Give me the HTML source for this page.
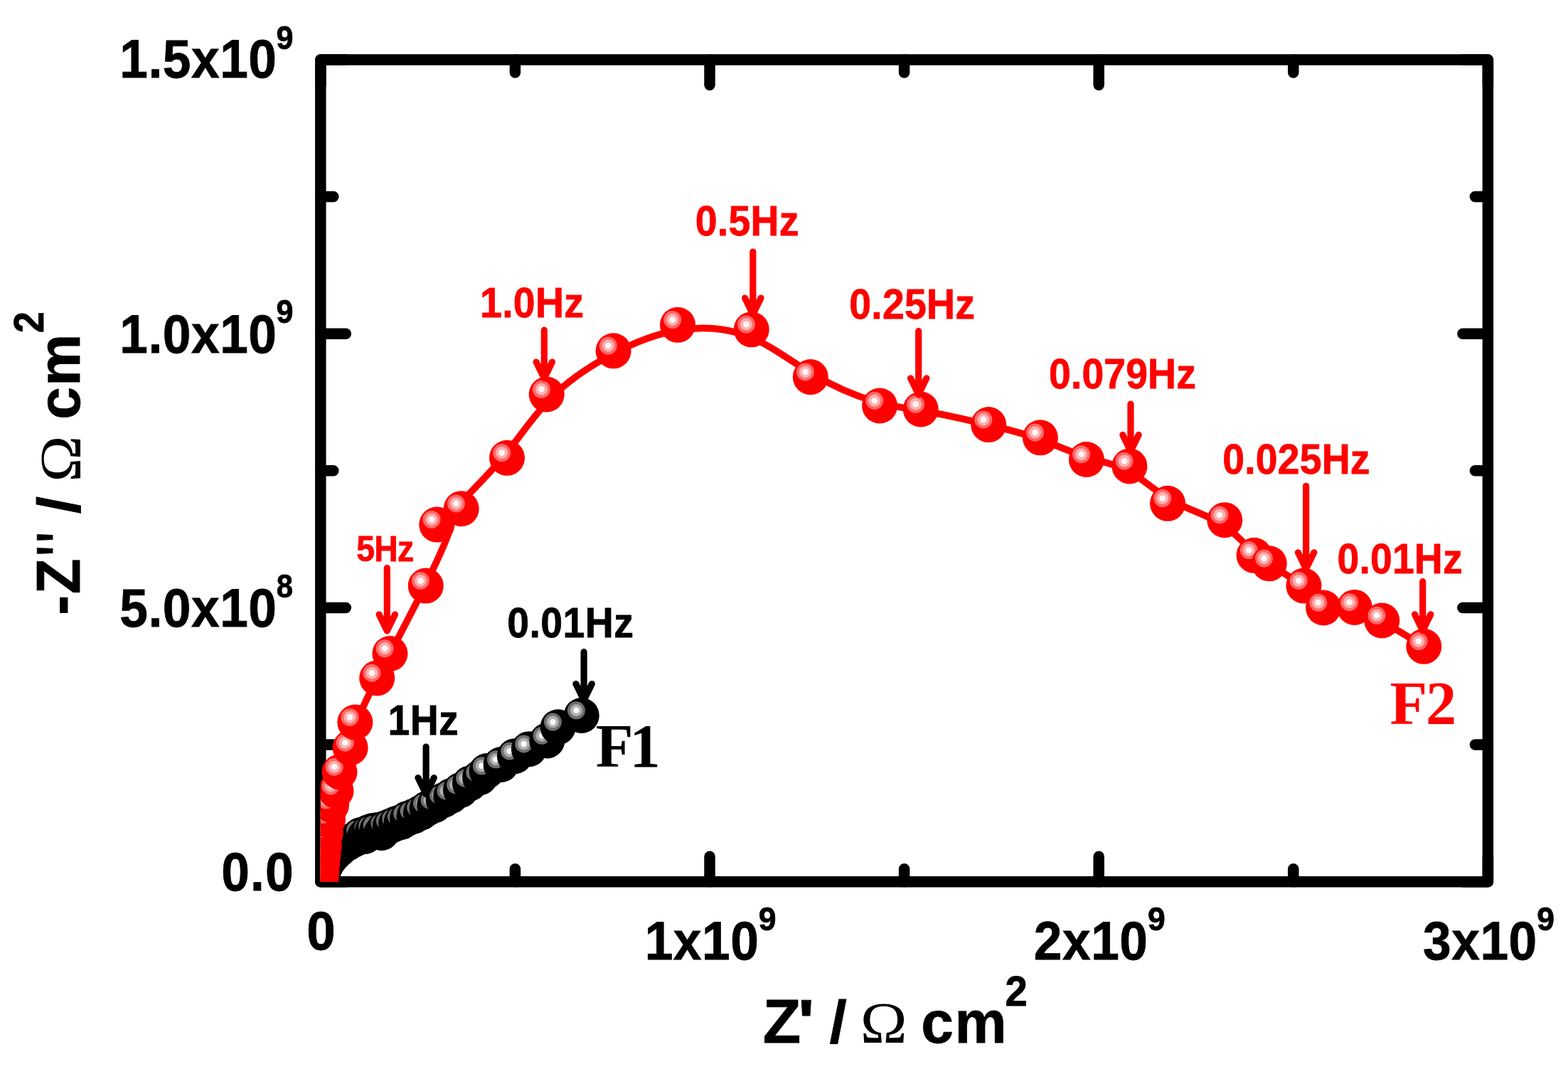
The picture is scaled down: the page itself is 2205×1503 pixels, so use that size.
<!DOCTYPE html>
<html lang="en"><head><meta charset="utf-8"><title>Nyquist plot</title>
<style>html,body{margin:0;padding:0;background:#fff}body{width:2205px;height:1503px;overflow:hidden}svg{display:block}</style>
</head><body>
<svg width="2205" height="1503" viewBox="0 0 2205 1503">
<defs>
<g id="mr"><circle r="25" fill="#ff0000"/><circle cx="-7.3" cy="-7.2" r="12.5" fill="#ff6a6a"/><circle cx="-7.3" cy="-7.2" r="8.5" fill="#ffb0b0"/><circle cx="-7.3" cy="-7.2" r="4.3" fill="#fff8f8"/></g>
<g id="mk"><circle r="25" fill="#000"/><circle cx="-7.3" cy="-7.2" r="12.5" fill="#707070"/><circle cx="-7.3" cy="-7.2" r="8.5" fill="#b0b0b0"/><circle cx="-7.3" cy="-7.2" r="4.3" fill="#fafafa"/></g>
<clipPath id="cp"><rect x="450.8" y="83.9" width="1641.6" height="1155.8"/></clipPath>
</defs>
<rect width="2205" height="1503" fill="#fff"/>
<g stroke="#000" stroke-width="15.5" stroke-linecap="round" stroke-linejoin="round" fill="none">
<rect x="450.8" y="83.9" width="1641.6" height="1155.8"/>
<path d="M450.8 1239.7v-35.5M450.8 83.9v35.5M450.8 1239.7h35.5M2092.4 1239.7h-35.5M724.4 1239.7v-18.0M724.4 83.9v18.0M450.8 1047.07h18.0M2092.4 1047.07h-18.0M998 1239.7v-35.5M998 83.9v35.5M450.8 854.43h35.5M2092.4 854.43h-35.5M1271.6 1239.7v-18.0M1271.6 83.9v18.0M450.8 661.8h18.0M2092.4 661.8h-18.0M1545.2 1239.7v-35.5M1545.2 83.9v35.5M450.8 469.17h35.5M2092.4 469.17h-35.5M1818.8 1239.7v-18.0M1818.8 83.9v18.0M450.8 276.53h18.0M2092.4 276.53h-18.0M2092.4 1239.7v-35.5M2092.4 83.9v35.5M450.8 83.9h35.5M2092.4 83.9h-35.5"/>
</g>
<g clip-path="url(#cp)">
<use href="#mk" x="451" y="1239.5"/>
<use href="#mk" x="452" y="1236"/>
<use href="#mk" x="454" y="1228"/>
<use href="#mk" x="457.7" y="1217.7"/>
<use href="#mk" x="462" y="1210"/>
<use href="#mk" x="466" y="1205"/>
<use href="#mk" x="470.5" y="1200"/>
<use href="#mk" x="475.4" y="1195.6"/>
<use href="#mk" x="481" y="1190.5"/>
<use href="#mk" x="488" y="1186"/>
<use href="#mk" x="495" y="1182"/>
<use href="#mk" x="501.9" y="1178.6"/>
<use href="#mk" x="507" y="1174"/>
<use href="#mk" x="513" y="1176"/>
<use href="#mk" x="518.2" y="1170"/>
<use href="#mk" x="524" y="1168"/>
<use href="#mk" x="530.6" y="1167"/>
<use href="#mk" x="536.5" y="1171"/>
<use href="#mk" x="541.2" y="1164.5"/>
<use href="#mk" x="548.8" y="1161.5"/>
<use href="#mk" x="557.1" y="1158"/>
<use href="#mk" x="564.8" y="1155.6"/>
<use href="#mk" x="573" y="1150.9"/>
<use href="#mk" x="582.4" y="1147.4"/>
<use href="#mk" x="591.9" y="1142.7"/>
<use href="#mk" x="600.7" y="1136.8"/>
<use href="#mk" x="611.3" y="1132.1"/>
<use href="#mk" x="623.7" y="1125"/>
<use href="#mk" x="634.3" y="1119.1"/>
<use href="#mk" x="647.9" y="1110.8"/>
<use href="#mk" x="660.9" y="1101.4"/>
<use href="#mk" x="675" y="1093.1"/>
<use href="#mk" x="684.6" y="1084"/>
<use href="#mk" x="704.6" y="1075"/>
<use href="#mk" x="723.9" y="1063.2"/>
<use href="#mk" x="743.9" y="1053.2"/>
<use href="#mk" x="769.3" y="1041.4"/>
<use href="#mk" x="784.7" y="1022.3"/>
<use href="#mk" x="817.7" y="1006"/>
<path d="M451 1239.5C451 1239.5 451 1239.5 451.02 1239.25C451.03 1239 451.07 1238.5 451.12 1237.83C451.17 1237.17 451.23 1236.33 451.33 1235.17C451.43 1234 451.57 1232.5 451.73 1230.58C451.9 1228.67 452.1 1226.33 452.35 1223.5C452.6 1220.67 452.9 1217.33 453.25 1213.83C453.6 1210.33 454 1206.67 454.43 1202.67C454.87 1198.67 455.33 1194.33 455.87 1189.17C456.4 1184 457 1178 457.87 1171.75C458.73 1165.5 459.87 1159 461.27 1152.33C462.67 1145.67 464.33 1138.83 466.25 1132.08C468.17 1125.33 470.33 1118.67 472.25 1110.9C474.17 1103.13 475.83 1094.27 479.18 1084.17C482.53 1074.07 487.57 1062.73 491.2 1051.1C494.83 1039.47 497.07 1027.53 503.33 1011.2C509.6 994.87 519.9 974.13 528.08 958.03C536.27 941.93 542.33 930.47 553.75 908.83C565.17 887.2 581.93 855.4 598.65 821.43C615.37 787.47 632.03 751.33 634.63 737C637.23 722.67 625.77 730.13 636.48 718.23C647.2 706.33 680.1 675.07 705.83 644.55C731.57 614.03 750.13 584.27 775.07 559.18C800 534.1 831.3 513.7 862.02 497.42C892.73 481.13 922.87 468.97 955.22 463.97C987.57 458.97 1022.13 461.13 1053.27 473.35C1084.4 485.57 1112.1 507.83 1142.17 525.7C1172.23 543.57 1204.67 557.03 1230.5 564.6C1256.33 572.17 1275.57 573.83 1301.08 578.27C1326.6 582.7 1358.4 589.9 1386.42 596.53C1414.43 603.17 1438.67 609.23 1461.62 617.38C1484.57 625.53 1506.23 635.77 1527.15 642.45C1548.07 649.13 1568.23 652.27 1587.27 662.57C1606.3 672.87 1624.2 690.33 1646.52 702.97C1668.83 715.6 1695.57 723.4 1715.82 735.57C1736.07 747.73 1749.83 764.27 1760.25 774.45C1770.67 784.63 1777.73 788.47 1789.38 795.6C1801.03 802.73 1817.27 813.17 1829.98 823.53C1842.7 833.9 1851.9 844.2 1863.78 849.25C1875.67 854.3 1890.23 854.1 1903.93 857.1C1917.63 860.1 1930.47 866.3 1946.72 875.45C1962.97 884.6 1982.63 896.7 1992.47 902.75C2002.3 908.8 2002.3 908.8 2002.3 908.8" fill="none" stroke="#ff0000" stroke-width="9.6" stroke-linejoin="round" stroke-linecap="round"/>
<use href="#mr" x="451" y="1239.5"/>
<use href="#mr" x="451.1" y="1238"/>
<use href="#mr" x="451.3" y="1235.5"/>
<use href="#mr" x="451.7" y="1231"/>
<use href="#mr" x="452.3" y="1224"/>
<use href="#mr" x="453.2" y="1214"/>
<use href="#mr" x="454.4" y="1203"/>
<use href="#mr" x="455.8" y="1190"/>
<use href="#mr" x="457.6" y="1172"/>
<use href="#mr" x="461" y="1152.5"/>
<use href="#mr" x="466" y="1132"/>
<use href="#mr" x="472.5" y="1112"/>
<use href="#mr" x="477.5" y="1085.4"/>
<use href="#mr" x="492.6" y="1051.4"/>
<use href="#mr" x="499.3" y="1015.6"/>
<use href="#mr" x="530.2" y="953.4"/>
<use href="#mr" x="548.4" y="919"/>
<use href="#mr" x="598.7" y="823.6"/>
<use href="#mr" x="648.7" y="715.2"/>
<use href="#mr" x="614.3" y="737.6"/>
<use href="#mr" x="713" y="643.8"/>
<use href="#mr" x="768.7" y="554.5"/>
<use href="#mr" x="862.6" y="493.3"/>
<use href="#mr" x="953" y="456.8"/>
<use href="#mr" x="1056.7" y="463.3"/>
<use href="#mr" x="1139.8" y="530.1"/>
<use href="#mr" x="1237.1" y="570.5"/>
<use href="#mr" x="1294.8" y="575.5"/>
<use href="#mr" x="1390.2" y="597.1"/>
<use href="#mr" x="1462.9" y="615.3"/>
<use href="#mr" x="1527.9" y="646"/>
<use href="#mr" x="1588.4" y="655.4"/>
<use href="#mr" x="1642.1" y="707.8"/>
<use href="#mr" x="1722.3" y="731.2"/>
<use href="#mr" x="1763.6" y="780.8"/>
<use href="#mr" x="1784.8" y="792.3"/>
<use href="#mr" x="1833.5" y="823.6"/>
<use href="#mr" x="1861.1" y="854.5"/>
<use href="#mr" x="1904.8" y="853.9"/>
<use href="#mr" x="1943.3" y="872.5"/>
<use href="#mr" x="2002.3" y="908.8"/>
</g>
<path d="M821.1 916.7V984.6M809.9 961.6L821.1 984.6L832.3 961.6" fill="none" stroke="#000" stroke-width="9.2" stroke-linecap="round" stroke-linejoin="round"/>
<path d="M599.1 1050V1116.6M587.9 1093.6L599.1 1116.6L610.3 1093.6" fill="none" stroke="#000" stroke-width="9.2" stroke-linecap="round" stroke-linejoin="round"/>
<path d="M544.3 798.6V887M533.1 864L544.3 887L555.5 864" fill="none" stroke="#ff0000" stroke-width="9.2" stroke-linecap="round" stroke-linejoin="round"/>
<path d="M765.3 464.2V532M754.1 509L765.3 532L776.5 509" fill="none" stroke="#ff0000" stroke-width="9.2" stroke-linecap="round" stroke-linejoin="round"/>
<path d="M1058.8 354V442M1047.6 419L1058.8 442L1070 419" fill="none" stroke="#ff0000" stroke-width="9.2" stroke-linecap="round" stroke-linejoin="round"/>
<path d="M1291.7 465.6V554.8M1280.5 531.8L1291.7 554.8L1302.9 531.8" fill="none" stroke="#ff0000" stroke-width="9.2" stroke-linecap="round" stroke-linejoin="round"/>
<path d="M1590 568V634.4M1578.8 611.4L1590 634.4L1601.2 611.4" fill="none" stroke="#ff0000" stroke-width="9.2" stroke-linecap="round" stroke-linejoin="round"/>
<path d="M1836.6 683.3V799.8M1825.4 776.8L1836.6 799.8L1847.8 776.8" fill="none" stroke="#ff0000" stroke-width="9.2" stroke-linecap="round" stroke-linejoin="round"/>
<path d="M2000.7 817.7V886.8M1989.5 863.8L2000.7 886.8L2011.9 863.8" fill="none" stroke="#ff0000" stroke-width="9.2" stroke-linecap="round" stroke-linejoin="round"/>
<text transform="translate(168.36 880.7) scale(0.9280 1)" font-family='"Liberation Sans", sans-serif' font-weight="bold" font-size="76.84" fill="#000" stroke="#000" stroke-width="0.8" stroke-linejoin="miter" letter-spacing="0.560">5.0x10</text>
<text transform="translate(168.36 109.4) scale(0.9280 1)" font-family='"Liberation Sans", sans-serif' font-weight="bold" font-size="76.84" fill="#000" stroke="#000" stroke-width="0.8" stroke-linejoin="miter" letter-spacing="0.560">1.5x10</text>
<text transform="translate(168.36 495.5) scale(0.9280 1)" font-family='"Liberation Sans", sans-serif' font-weight="bold" font-size="76.84" fill="#000" stroke="#000" stroke-width="0.8" stroke-linejoin="miter" letter-spacing="0.560">1.0x10</text>
<text transform="translate(388.39 69.2) scale(0.9336 1)" font-family='"Liberation Sans", sans-serif' font-weight="bold" font-size="46.16" fill="#000" stroke="#000" stroke-width="0.8" stroke-linejoin="miter">9</text>
<text transform="translate(388.39 453.8) scale(0.9336 1)" font-family='"Liberation Sans", sans-serif' font-weight="bold" font-size="46.16" fill="#000" stroke="#000" stroke-width="0.8" stroke-linejoin="miter">9</text>
<text transform="translate(388.85 840.1) scale(0.9060 1)" font-family='"Liberation Sans", sans-serif' font-weight="bold" font-size="46.16" fill="#000" stroke="#000" stroke-width="0.8" stroke-linejoin="miter">8</text>
<text transform="translate(311.15 1251.9) scale(0.9280 1)" font-family='"Liberation Sans", sans-serif' font-weight="bold" font-size="76.84" fill="#000" stroke="#000" stroke-width="0.8" stroke-linejoin="miter" letter-spacing="1.342">0.0</text>
<text transform="translate(431.29 1334.8) scale(0.9480 1)" font-family='"Liberation Sans", sans-serif' font-weight="bold" font-size="76.84" fill="#000" stroke="#000" stroke-width="0.8" stroke-linejoin="miter">0</text>
<text transform="translate(906.64 1348.6) scale(0.9280 1)" font-family='"Liberation Sans", sans-serif' font-weight="bold" font-size="76.84" fill="#000" stroke="#000" stroke-width="0.8" stroke-linejoin="miter" letter-spacing="0.560">1x10</text>
<text transform="translate(1066.84 1308.1) scale(0.9649 1)" font-family='"Liberation Sans", sans-serif' font-weight="bold" font-size="46.16" fill="#000" stroke="#000" stroke-width="0.8" stroke-linejoin="miter">9</text>
<text transform="translate(1453.84 1348.6) scale(0.9280 1)" font-family='"Liberation Sans", sans-serif' font-weight="bold" font-size="76.84" fill="#000" stroke="#000" stroke-width="0.8" stroke-linejoin="miter" letter-spacing="0.560">2x10</text>
<text transform="translate(1614.04 1308.1) scale(0.9649 1)" font-family='"Liberation Sans", sans-serif' font-weight="bold" font-size="46.16" fill="#000" stroke="#000" stroke-width="0.8" stroke-linejoin="miter">9</text>
<text transform="translate(2001.04 1348.6) scale(0.9280 1)" font-family='"Liberation Sans", sans-serif' font-weight="bold" font-size="76.84" fill="#000" stroke="#000" stroke-width="0.8" stroke-linejoin="miter" letter-spacing="0.560">3x10</text>
<text transform="translate(2161.24 1308.1) scale(0.9649 1)" font-family='"Liberation Sans", sans-serif' font-weight="bold" font-size="46.16" fill="#000" stroke="#000" stroke-width="0.8" stroke-linejoin="miter">9</text>
<text transform="translate(1072.67 1465.7) scale(1.0046 1)" font-family='"Liberation Sans", sans-serif' font-weight="bold" font-size="87.24" fill="#000" stroke="#000" stroke-width="0.8" stroke-linejoin="miter">Z</text>
<text transform="translate(1122.08 1465.7) scale(1.1287 1)" font-family='"Liberation Sans", sans-serif' font-weight="bold" font-size="87.24" fill="#000" stroke="#000" stroke-width="0.8" stroke-linejoin="miter">'</text>
<text transform="translate(1166.52 1465.7) scale(1.0622 1)" font-family='"Liberation Sans", sans-serif' font-weight="bold" font-size="82.56" fill="#000" stroke="#000" stroke-width="0.8" stroke-linejoin="miter">/</text>
<text transform="translate(1209.76 1466.1) scale(1.0823 1)" font-family='"Liberation Serif", serif' font-weight="normal" font-size="82" fill="#000">Ω</text>
<text transform="translate(1295.32 1465.7) scale(0.9860 1)" font-family='"Liberation Sans", sans-serif' font-weight="bold" font-size="83.29" fill="#000" stroke="#000" stroke-width="0.8" stroke-linejoin="miter" letter-spacing="1.572">cm</text>
<text transform="translate(1413.62 1414) scale(0.9544 1)" font-family='"Liberation Sans", sans-serif' font-weight="bold" font-size="59.16" fill="#000" stroke="#000" stroke-width="0.8" stroke-linejoin="miter">2</text>
<text transform="translate(112.1 864.9) rotate(-90) scale(0.9755 1)" font-family='"Liberation Sans", sans-serif' font-weight="bold" font-size="87.24" fill="#000" stroke="#000" stroke-width="0.8" stroke-linejoin="miter">-</text>
<text transform="translate(112.1 835.25) rotate(-90) scale(0.9358 1)" font-family='"Liberation Sans", sans-serif' font-weight="bold" font-size="87.24" fill="#000" stroke="#000" stroke-width="0.8" stroke-linejoin="miter">Z</text>
<text transform="translate(112.1 781.84) rotate(-90) scale(0.6966 1)" font-family='"Liberation Sans", sans-serif' font-weight="bold" font-size="87.24" fill="#000" stroke="#000" stroke-width="0.8" stroke-linejoin="miter">'</text>
<text transform="translate(112.1 762.84) rotate(-90) scale(0.6966 1)" font-family='"Liberation Sans", sans-serif' font-weight="bold" font-size="87.24" fill="#000" stroke="#000" stroke-width="0.8" stroke-linejoin="miter">'</text>
<text transform="translate(112.1 722.27) rotate(-90) scale(1.0575 1)" font-family='"Liberation Sans", sans-serif' font-weight="bold" font-size="82.56" fill="#000" stroke="#000" stroke-width="0.8" stroke-linejoin="miter">/</text>
<text transform="translate(112.5 677.78) rotate(-90) scale(1.0690 1)" font-family='"Liberation Serif", serif' font-weight="normal" font-size="82" fill="#000">Ω</text>
<text transform="translate(112.1 589.78) rotate(-90) scale(0.9860 1)" font-family='"Liberation Sans", sans-serif' font-weight="bold" font-size="83.29" fill="#000" stroke="#000" stroke-width="0.8" stroke-linejoin="miter" letter-spacing="1.267">cm</text>
<text transform="translate(61.2 467.88) rotate(-90) scale(0.9086 1)" font-family='"Liberation Sans", sans-serif' font-weight="bold" font-size="59.16" fill="#000" stroke="#000" stroke-width="0.8" stroke-linejoin="miter">2</text>
<text transform="translate(501.21 788.5) scale(0.9280 1)" font-family='"Liberation Sans", sans-serif' font-weight="bold" font-size="49.8" fill="#ff0000" stroke="#ff0000" stroke-width="0.8" stroke-linejoin="miter" letter-spacing="-0.675">5Hz</text>
<text transform="translate(977.68 331.3) scale(0.9280 1)" font-family='"Liberation Sans", sans-serif' font-weight="bold" font-size="59.68" fill="#ff0000" stroke="#ff0000" stroke-width="0.8" stroke-linejoin="miter" letter-spacing="0.326">0.5Hz</text>
<text transform="translate(675.08 445.5) scale(0.9280 1)" font-family='"Liberation Sans", sans-serif' font-weight="bold" font-size="59.68" fill="#ff0000" stroke="#ff0000" stroke-width="0.8" stroke-linejoin="miter" letter-spacing="0.326">1.0Hz</text>
<text transform="translate(1194.28 447.6) scale(0.9280 1)" font-family='"Liberation Sans", sans-serif' font-weight="bold" font-size="59.68" fill="#ff0000" stroke="#ff0000" stroke-width="0.8" stroke-linejoin="miter" letter-spacing="0.237">0.25Hz</text>
<text transform="translate(1475.08 545.7) scale(0.9280 1)" font-family='"Liberation Sans", sans-serif' font-weight="bold" font-size="59.68" fill="#ff0000" stroke="#ff0000" stroke-width="0.8" stroke-linejoin="miter" letter-spacing="0.101">0.079Hz</text>
<text transform="translate(1719.28 665.7) scale(0.9280 1)" font-family='"Liberation Sans", sans-serif' font-weight="bold" font-size="59.68" fill="#ff0000" stroke="#ff0000" stroke-width="0.8" stroke-linejoin="miter" letter-spacing="0.173">0.025Hz</text>
<text transform="translate(1880.48 805.7) scale(0.9280 1)" font-family='"Liberation Sans", sans-serif' font-weight="bold" font-size="59.68" fill="#ff0000" stroke="#ff0000" stroke-width="0.8" stroke-linejoin="miter" letter-spacing="0.150">0.01Hz</text>
<text transform="translate(713.28 895.9) scale(0.9280 1)" font-family='"Liberation Sans", sans-serif' font-weight="bold" font-size="59.68" fill="#000" stroke="#000" stroke-width="0.8" stroke-linejoin="miter" letter-spacing="0.474">0.01Hz</text>
<text transform="translate(545.56 1033.4) scale(0.9280 1)" font-family='"Liberation Sans", sans-serif' font-weight="bold" font-size="59.68" fill="#000" stroke="#000" stroke-width="0.8" stroke-linejoin="miter" letter-spacing="0.326">1Hz</text>
<text transform="translate(837.71 1077.8) scale(1.0000 1)" font-family='"Liberation Serif", serif' font-weight="bold" font-size="86.3" fill="#000" letter-spacing="-4.884">F1</text>
<text transform="translate(1954.51 1017.8) scale(1.0000 1)" font-family='"Liberation Serif", serif' font-weight="bold" font-size="86.3" fill="#ff0000" letter-spacing="-2.146">F2</text>
</svg>
</body></html>
